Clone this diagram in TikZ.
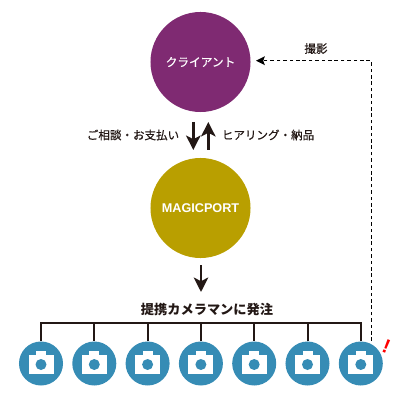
\documentclass[tikz,border=0pt]{standalone}
\usepackage{fontspec}
\setmainfont{Noto Sans CJK JP}
\newfontfamily\latinfont{Liberation Sans}
\newfontfamily\medfont[FakeBold=0.6]{Noto Sans CJK JP}
\usetikzlibrary{calc,arrows.meta}
\definecolor{clientpurple}{HTML}{7F2A72}
\definecolor{magicolive}{HTML}{B99F00}
\definecolor{camblue}{HTML}{368CB5}
\definecolor{linedark}{HTML}{231815}
\tikzset{
  bigcircle/.style={circle,inner sep=0pt,minimum size=2.5cm,text=white,font=\medfont\fontsize{8.3}{10}\selectfont},
  camcircle/.style={circle,fill=camblue,inner sep=0pt,minimum size=1.1cm},
  lbl/.style={inner sep=0pt,text=linedark,font=\medfont\fontsize{8.2}{10}\selectfont},
  fat/.style={draw=linedark,line width=0.065cm,-{Stealth[length=0.36cm,width=0.36cm,inset=0.09cm]}},
}
\begin{document}
\begin{tikzpicture}[x=0.025cm,y=-0.025cm]
  \useasboundingbox (0,0) rectangle (400,400);
  \node[bigcircle,fill=clientpurple] (client) at (200.5,62) {クライアント};
  \node[bigcircle,fill=magicolive] (magic) at (200.5,208) {\latinfont\fontsize{9}{10}\selectfont\bfseries MAGICPORT};
  % arrows between the circles
  \coordinate (downa) at (193.3,122);
  \coordinate (downb) at (193.3,150);
  \coordinate (upa) at (208.3,150);
  \coordinate (upb) at (208.3,122);
  \draw[fat] (downa)--(downb);
  \draw[fat] (upa)--(upb);
  \node[lbl] (pay) at (133,135) {ご相談・お支払い};
  \node[lbl] (hear) at (268,135) {ヒアリング・納品};
  \coordinate (hirea) at (201,265);
  \coordinate (hireb) at (201,292);
  \draw[fat] (hirea)--(hireb);
  \node[lbl,font=\fontsize{9.4}{11}\selectfont\bfseries] (hire) at (207,309) {提携カメラマンに発注};
  % cameras
  \foreach \cx [count=\i] in {41,94.3,147.6,200.9,254.2,307.5,360.8} {
    \node[camcircle] (cam\i) at (\cx,363.5) {};
    \coordinate (bus\i) at (\cx,322.7);
    \draw[linedark,line width=0.05cm] (bus\i)--(cam\i.north);
    \fill[white] ($(cam\i)+(-12.5,-8.5)$) rectangle ($(cam\i)+(12.5,10.5)$);
    \fill[white] ($(cam\i)+(-5,-12.5)$) rectangle ($(cam\i)+(5,-8)$);
    \fill[camblue] ($(cam\i)+(0,1)$) circle (5.5);
  }
  \draw[linedark,line width=0.05cm,line cap=rect] (bus1)--(bus7);
  % dashed return line
  \coordinate (shoot) at (371.3,341);
  \coordinate (corner) at (371.3,60.7);
  \coordinate (shootend) at (256,60.7);
  \draw[black,line width=0.03cm,dash pattern=on 0.09cm off 0.07cm,-{Stealth[length=0.22cm,width=0.22cm,inset=0.04cm,sep=0pt]}] (shoot)--(corner)--(shootend);
  \node[lbl] (shootlabel) at (316,48.5) {撮影};
  \node[inner sep=0pt,text=red,rotate=-22,font=\latinfont\fontsize{14}{14}\selectfont\bfseries] (alert) at (386.5,346.5) {!};
\end{tikzpicture}
\end{document}
